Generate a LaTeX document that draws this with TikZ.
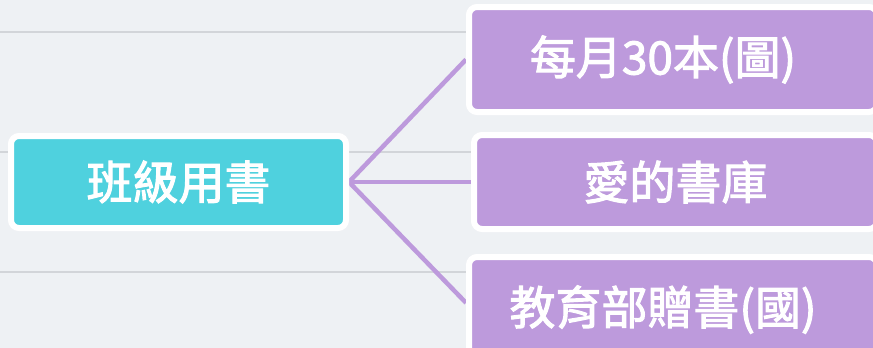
\documentclass[tikz,border=0pt]{standalone}
\usepackage{fontspec}
\setmainfont{Noto Sans CJK TC}
\newfontfamily\medfont[FakeBold=2.2]{Noto Sans CJK TC}
\usetikzlibrary{backgrounds,calc}
\definecolor{paper}{HTML}{EEF1F4}
\definecolor{rule}{HTML}{D2D5D9}
\definecolor{cyanbox}{HTML}{4FD1DE}
\definecolor{purplebox}{HTML}{BD9ADC}
\tikzset{
  topic/.style={draw=white, line width=6pt, rounded corners=8pt, text=white,
    font=\fontsize{46}{50}\selectfont\medfont, inner sep=0pt, anchor=north west},
  rootbox/.style={topic, fill=cyanbox},
  subbox/.style={topic, fill=purplebox},
  branch/.style={draw=purplebox, line width=4.5pt},
}
\begin{document}
\begin{tikzpicture}[x=1pt,y=-1pt]
\useasboundingbox (0,0) rectangle (873,348);
\node[rootbox, minimum width=335pt, minimum height=92pt] (root) at (8,133) {\raisebox{2pt}{班級用書}};
\node[subbox, minimum width=408pt, minimum height=105pt] (b1) at (466,4) {\raisebox{2pt}{每月30本(圖)}\hspace*{20pt}};
\node[subbox, minimum width=403pt, minimum height=94pt] (b2) at (471,132) {\raisebox{2pt}{愛的書庫}};
\node[subbox, minimum width=408pt, minimum height=105pt] (b3) at (466,254) {\raisebox{2pt}{教育部贈書(國)}\hspace*{20pt}};
\begin{scope}[on background layer]
  \fill[paper] (0,0) rectangle (873,348);
  \foreach \yy in {32,152,272} \draw[rule, line width=1.5pt] (0,\yy) -- (873,\yy);
  \draw[branch] (root.east) -- (b1.west);
  \draw[branch] (root.east) -- (b2.west);
  \draw[branch] (root.east) -- ($(b3.north west)!0.44!(b3.south west)$);
\end{scope}
\end{tikzpicture}
\end{document}
